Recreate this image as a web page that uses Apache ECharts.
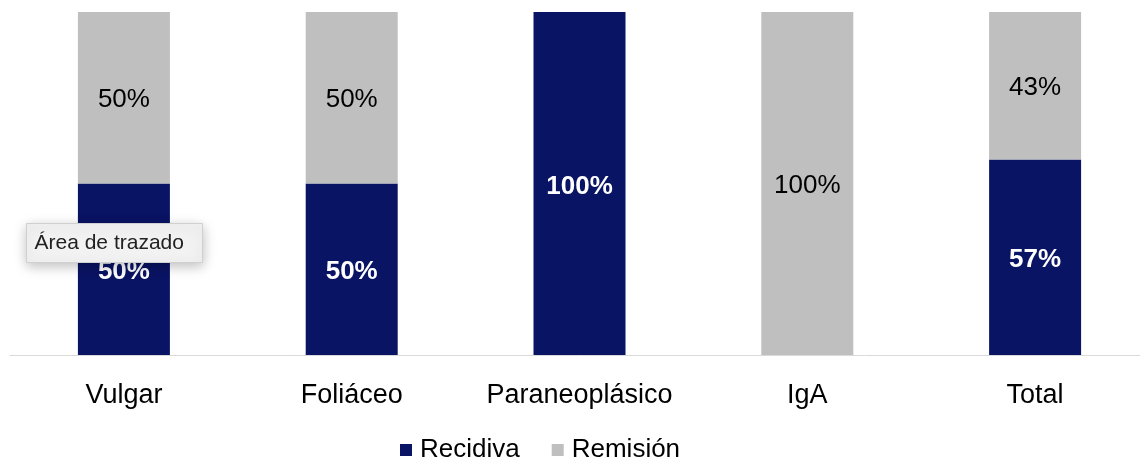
<!DOCTYPE html>
<html>
<head>
<meta charset="utf-8">
<script src="https://cdn.jsdelivr.net/npm/echarts@6/dist/echarts.min.js"></script>
<style>
  html, body { margin: 0; padding: 0; background: #fff; overflow: hidden; }
  #chart { width: 1149px; height: 460px; }
</style>
</head>
<body>
<div id="chart"></div>
<script>
// categorías y porcentajes
const categories = ['Vulgar', 'Foliáceo', 'Paraneoplásico', 'IgA', 'Total'];
const recidiva = [50, 50, 100, 0, 57];
const remision = [50, 50, 0, 100, 43];

const chart = echarts.init(document.getElementById('chart'));

const pctLabel = function (p) {
  return p.value > 0 ? p.value + '%' : '';
};

const option = {
  animation: false,
  textStyle: { fontFamily: 'Liberation Sans, Arial, sans-serif' },
  // el área de trazado se sale un poco por la derecha, como en el original
  grid: { left: 10, top: 12, right: 0, bottom: 105, containLabel: false },
  legend: {
    top: 432,
    left: 395,
    icon: 'rect',
    itemWidth: 12,
    itemHeight: 12,
    itemGap: 32,
    textStyle: { fontSize: 26, color: '#000', padding: [0, 0, 0, 3] },
    data: ['Recidiva', 'Remisión']
  },
  xAxis: {
    type: 'category',
    data: categories,
    axisLine: { lineStyle: { color: '#d9d9d9', width: 1 } },
    axisTick: { show: false },
    axisLabel: { fontSize: 27, color: '#000', margin: 27, interval: 0 }
  },
  yAxis: {
    type: 'value',
    min: 0,
    max: 100,
    show: false,
    splitLine: { show: false }
  },
  series: [
    {
      name: 'Recidiva',
      type: 'bar',
      stack: 'total',
      barWidth: 92,
      data: recidiva,
      itemStyle: { color: '#0a1464' },
      label: {
        show: true,
        position: 'inside',
        offset: [0, 3],
        formatter: pctLabel,
        color: '#fff',
        fontSize: 26,
        fontWeight: 'bold'
      }
    },
    {
      name: 'Remisión',
      type: 'bar',
      stack: 'total',
      barWidth: 92,
      data: remision,
      itemStyle: { color: '#bfbfbf' },
      label: {
        show: true,
        position: 'inside',
        offset: [0, 2],
        formatter: pctLabel,
        color: '#000',
        fontSize: 26
      }
    }
  ],
  graphic: [
    {
      type: 'group',
      left: 26,
      top: 223,
      z: 100,
      children: [
        {
          type: 'rect',
          z: 100,
          shape: { x: 0, y: 0, width: 176, height: 39 },
          style: {
            fill: '#f2f2f2',
            stroke: '#d0d0d0',
            lineWidth: 1,
            shadowBlur: 12,
            shadowOffsetY: 3,
            shadowColor: 'rgba(0,0,0,0.25)'
          }
        },
        {
          type: 'text',
          z: 101,
          x: 8,
          y: 20,
          style: {
            text: 'Área de trazado',
            fontSize: 21,
            fontFamily: 'Liberation Sans, Arial, sans-serif',
            fill: '#222',
            verticalAlign: 'middle'
          }
        }
      ]
    }
  ]
};

chart.setOption(option);
</script>
</body>
</html>
